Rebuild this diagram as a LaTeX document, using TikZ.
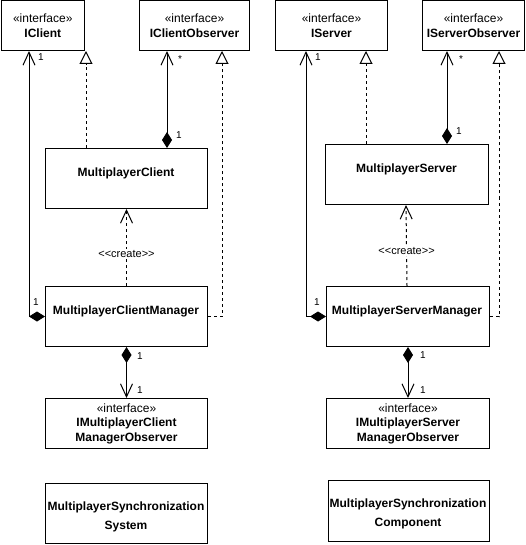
\documentclass[tikz,border=0pt]{standalone}
\usepackage{fontspec}
\setmainfont{Liberation Sans}
\usetikzlibrary{arrows.meta}
\newcommand\nmfont{\fontsize{12}{14.5}\selectfont}
\newcommand\lblfont{\fontsize{10}{12}\selectfont}
\newcommand\crfont{\fontsize{11}{13}\selectfont}
\begin{document}
\begin{tikzpicture}[x=1pt,y=-1pt,
  box/.style={draw=black, line width=1pt, inner sep=0pt, anchor=north west, align=center, font=\nmfont},
  txt/.style={inner sep=0pt, align=center, font=\nmfont\bfseries},
  lbl/.style={inner sep=0pt, font=\lblfont},
  crlbl/.style={inner sep=1pt, fill=white, font=\crfont},
  assoc/.style={line width=1pt, -{Straight Barb[length=13pt,width=12pt]}},
  compo/.style={line width=1pt, {Diamond[length=16pt,width=10pt]}-{Straight Barb[length=13pt,width=12pt]}},
  realize/.style={line width=1pt, dash pattern=on 3pt off 3pt, -{Triangle[open,length=13pt,width=13pt,fill=white]}},
  creates/.style={line width=1pt, dash pattern=on 3pt off 3pt, -{Straight Barb[length=13pt,width=12pt]}}
]
\useasboundingbox[fill=white] (0,0) rectangle (525,545);

% ---------- client side ----------
\node[box, minimum width=83.5pt, minimum height=49.5pt] (ic) at (0.5,0.5) {«interface»\\\textbf{IClient}};
\node[box, minimum width=110pt, minimum height=49.5pt] (ico) at (139,0.5) {«interface»\\\textbf{IClientObserver}};
\node[box, minimum width=162pt, minimum height=60pt] (mc) at (45,148) {};
\node[txt] (mct) at (126,173) {MultiplayerClient};
\node[box, minimum width=162pt, minimum height=60pt] (mcm) at (45,286) {};
\node[txt] (mcmt) at (126,311) {MultiplayerClientManager};
\node[box, minimum width=162pt, minimum height=50pt] (imcmo) at (45,398) {«interface»\\\textbf{IMultiplayerClient}\\\textbf{ManagerObserver}};
\node[box, minimum width=162pt, minimum height=60pt] (mss) at (45,483) {};
\node[txt, font=\fontsize{12}{19}\selectfont\bfseries] (msst) at (126,517) {MultiplayerSynchronization\\System};

\coordinate (cA) at ([xshift=28.5pt]ic.south west);
\coordinate (cB) at ([xshift=41pt]mc.north west);
\coordinate (cC) at ([xshift=122pt]mc.north west);
\coordinate (cD) at ([xshift=83pt]ico.south west);

\draw[compo] (mcm.west) -| (cA);
\draw[realize] (cB) -- (cB |- ic.south);
\draw[compo] (cC) -- (cC |- ico.south);
\draw[realize] (mcm.east) -| (cD);
\draw[creates] (mcm.north) -- (mc.south) node[crlbl, pos=0.42] (ccr) {<\kern0pt<create>\kern0pt>};
\draw[compo] (mcm.south) -- (imcmo.north);

\node[lbl] (l1) at (41,57) {1};
\node[lbl] (l2) at (36,302) {1};
\node[lbl] (l3) at (180,59) {*};
\node[lbl] (l4) at (179,135) {1};
\node[lbl] (l5) at (140,356) {1};
\node[lbl] (l6) at (140,390) {1};

% ---------- server side ----------
\node[box, minimum width=112pt, minimum height=49.5pt] (is) at (275,0.5) {«interface»\\\textbf{IServer}};
\node[box, minimum width=102pt, minimum height=49.5pt] (iso) at (422,0.5) {«interface»\\\textbf{IServerObserver}};
\node[box, minimum width=163pt, minimum height=60pt] (ms) at (325,144) {};
\node[txt] (mst) at (406.5,169) {MultiplayerServer};
\node[box, minimum width=163pt, minimum height=60pt] (msm) at (326,286) {};
\node[txt] (msmt) at (407,311) {MultiplayerServerManager};
\node[box, minimum width=163pt, minimum height=50pt] (imsmo) at (326,398) {«interface»\\\textbf{IMultiplayerServer}\\\textbf{ManagerObserver}};
\node[box, minimum width=161pt, minimum height=61pt] (msc) at (328,480) {};
\node[txt, font=\fontsize{12}{19}\selectfont\bfseries] (msct) at (408,514) {MultiplayerSynchronization\\Component};

\coordinate (sA) at ([xshift=31pt]is.south west);
\coordinate (sB) at ([xshift=41pt]ms.north west);
\coordinate (sC) at ([xshift=122pt]ms.north west);
\coordinate (sD) at ([xshift=77pt]iso.south west);
\coordinate (sE) at ([xshift=81pt]ms.south west);
\coordinate (sF) at ([xshift=81pt]msm.north west);

\draw[compo] (msm.west) -| (sA);
\draw[realize] (sB) -- (sB |- is.south);
\draw[compo] (sC) -- (sC |- iso.south);
\draw[realize] (msm.east) -| (sD);
\draw[creates] (sF) -- (sE) node[crlbl, pos=0.43] (scr) {<\kern0pt<create>\kern0pt>};
\draw[compo] (msm.south) -- (imsmo.north);

\node[lbl] (m1) at (318,57) {1};
\node[lbl] (m2) at (317,302) {1};
\node[lbl] (m3) at (461,59) {*};
\node[lbl] (m4) at (459,131) {1};
\node[lbl] (m5) at (423,355) {1};
\node[lbl] (m6) at (423,390) {1};
\end{tikzpicture}
\end{document}
